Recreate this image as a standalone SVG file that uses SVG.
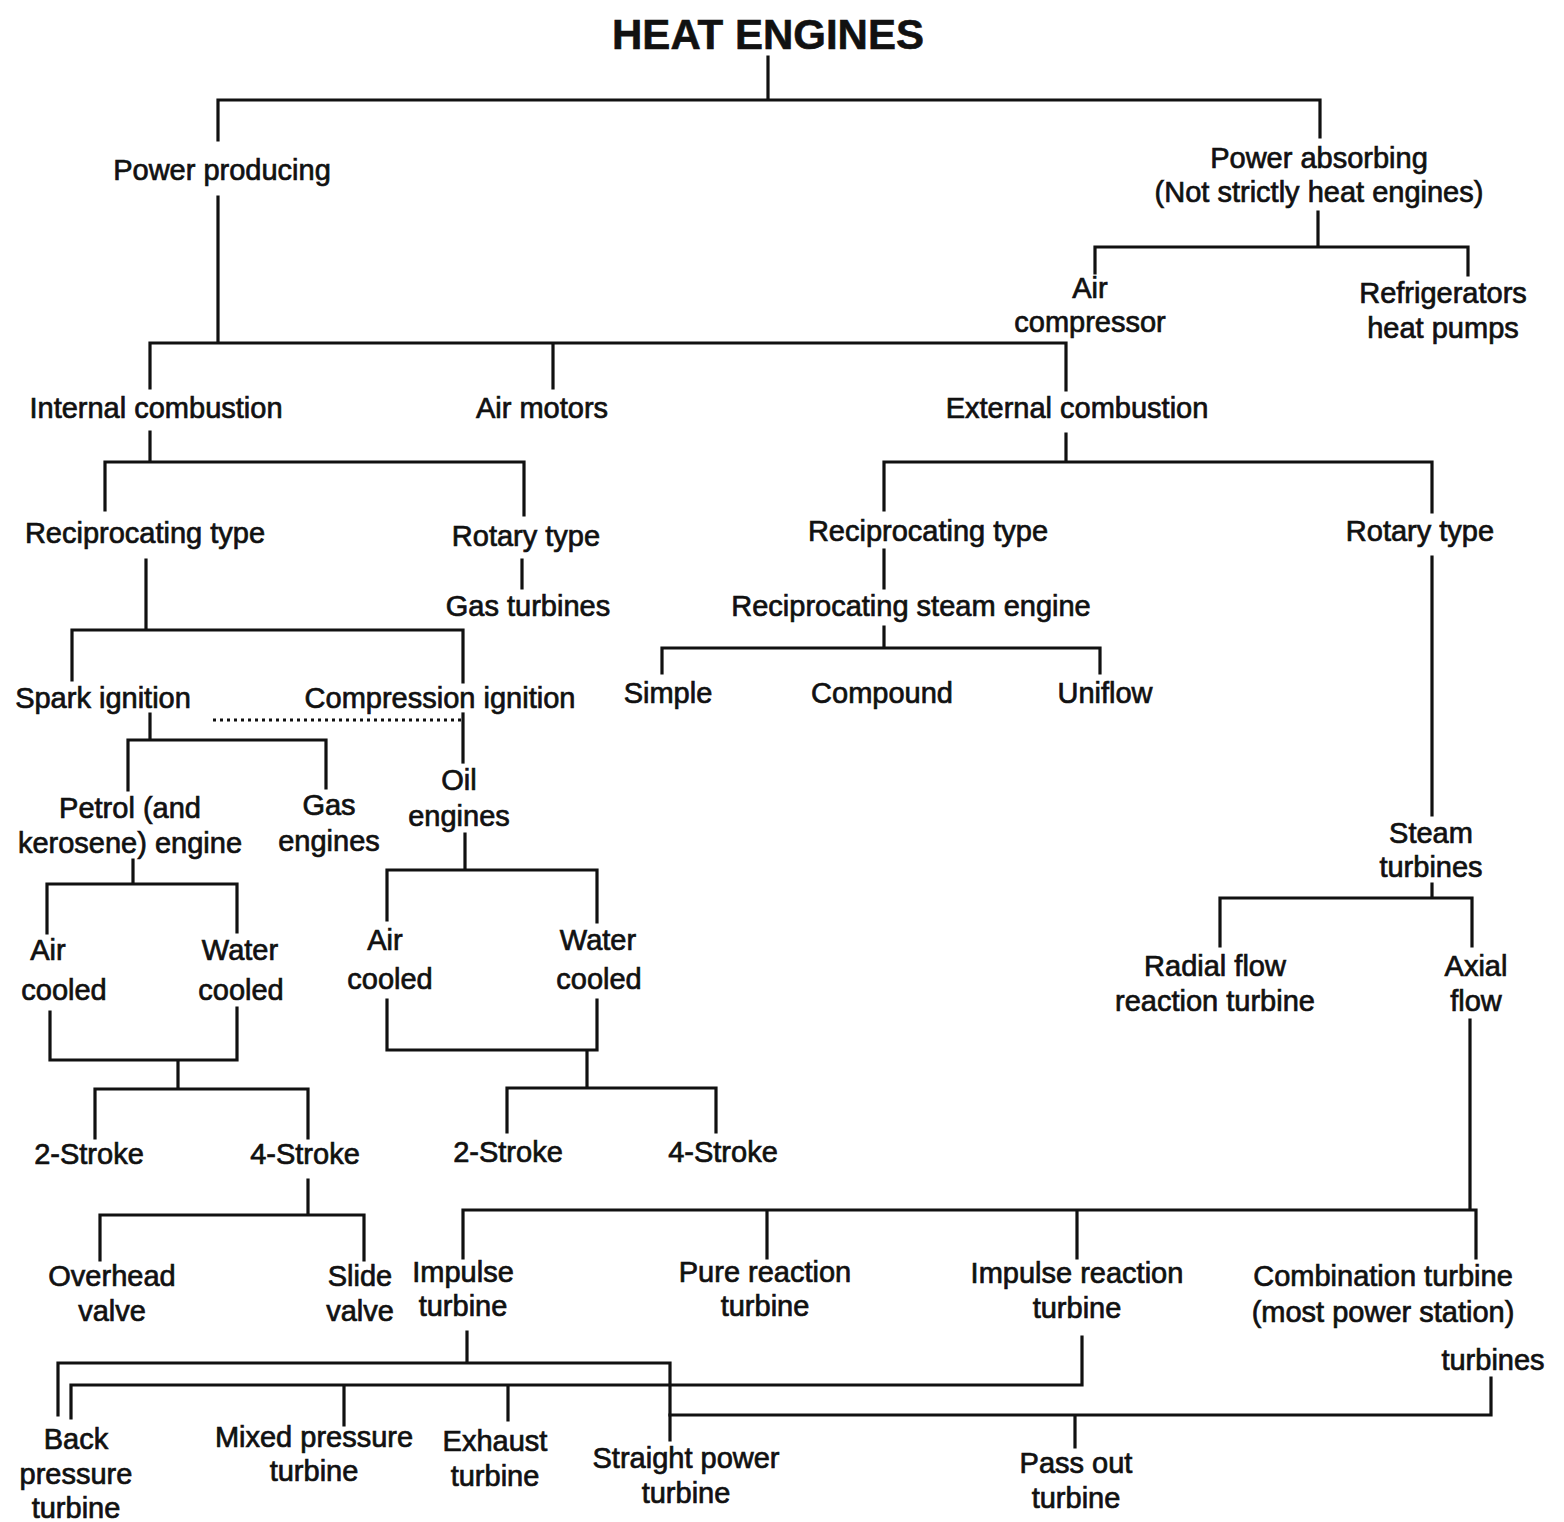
<svg xmlns="http://www.w3.org/2000/svg" width="1564" height="1522" viewBox="0 0 1564 1522">
<style>
text{font-family:"Liberation Sans",Arial,sans-serif;font-size:29px;fill:#111;stroke:#111;stroke-width:0.7;text-anchor:middle}
.title{font-size:42px;font-weight:bold;stroke-width:0.6}
.ln{fill:none;stroke:#111;stroke-width:3.2;stroke-linecap:square}
.dot{fill:none;stroke:#111;stroke-width:3;stroke-dasharray:3 4}
</style>
<rect width="1564" height="1522" fill="#fff"/>
<g id="connectors">
<path class="ln" d="M768 57V100M218 100H1320M218 100V140M1320 100V137"/>
<path class="ln" d="M218 197V343M150 343H1066M150 343V388M553 343V388M1066 343V390"/>
<path class="ln" d="M1318 212V247M1095 247H1468M1095 247V273M1468 247V275"/>
<path class="ln" d="M150 432V462M105 462H524M105 462V510M524 462V515M522 560V588"/>
<path class="ln" d="M146 560V630M72 630H463M72 630V680M463 630V682"/>
<path class="dot" d="M213 720H462"/>
<path class="ln" d="M463 714V762"/>
<path class="ln" d="M150 714V740M128 740H326M128 740V790M326 740V788"/>
<path class="ln" d="M133 860V884M47 884H237M47 884V933M237 884V932"/>
<path class="ln" d="M50 1012V1060H237V1008M178 1060V1089M95 1089H308M95 1089V1138M308 1089V1138"/>
<path class="ln" d="M308 1180V1215M100 1215H364M100 1215V1260M364 1215V1260"/>
<path class="ln" d="M465 834V870M387 870H597M387 870V920M597 870V922"/>
<path class="ln" d="M387 1000V1050H597V1000M587 1050V1088M507 1088H716M507 1088V1132M716 1088V1132"/>
<path class="ln" d="M1066 434V462M884 462H1432M884 462V510M1432 462V512"/>
<path class="ln" d="M884 550V588M884 627V648M662 648H1100M662 648V673M1100 648V673"/>
<path class="ln" d="M1432 557V815M1432 884V898M1220 898H1472M1220 898V946M1472 898V946"/>
<path class="ln" d="M1470 1020V1210M463 1210H1476M463 1210V1258M767 1210V1258M1077 1210V1258M1476 1210V1258"/>
<path class="ln" d="M467 1332V1363M58 1363H670M58 1363V1415M670 1363V1440"/>
<path class="ln" d="M1082 1337V1385H71V1418M344 1385V1425M508 1385V1420"/>
<path class="ln" d="M1491 1378V1415H670M1075 1415V1447"/>
</g>
<g id="heat-engines"><text class="title" x="768" y="49">HEAT ENGINES</text></g>
<g id="power-producing"><text x="222" y="180">Power producing</text></g>
<g id="power-absorbing"><text x="1319" y="168">Power absorbing</text><text x="1319" y="202">(Not strictly heat engines)</text></g>
<g id="air-compressor"><text x="1090" y="298">Air</text><text x="1090" y="332">compressor</text></g>
<g id="refrigerators"><text x="1443" y="303">Refrigerators</text><text x="1443" y="338">heat pumps</text></g>
<g id="internal-combustion"><text x="156" y="418">Internal combustion</text></g>
<g id="air-motors"><text x="542" y="418">Air motors</text></g>
<g id="external-combustion"><text x="1077" y="418">External combustion</text></g>
<g id="ic-reciprocating"><text x="145" y="543">Reciprocating type</text></g>
<g id="ic-rotary"><text x="526" y="546">Rotary type</text></g>
<g id="gas-turbines"><text x="528" y="616">Gas turbines</text></g>
<g id="ec-reciprocating"><text x="928" y="541">Reciprocating type</text></g>
<g id="ec-rotary"><text x="1420" y="541">Rotary type</text></g>
<g id="steam-engine"><text x="911" y="616">Reciprocating steam engine</text></g>
<g id="simple"><text x="668" y="703">Simple</text></g>
<g id="compound"><text x="882" y="703">Compound</text></g>
<g id="uniflow"><text x="1105" y="703">Uniflow</text></g>
<g id="spark-ignition"><text x="103" y="708">Spark ignition</text></g>
<g id="compression-ignition"><text x="440" y="708">Compression ignition</text></g>
<g id="petrol-engine"><text x="130" y="818">Petrol (and</text><text x="130" y="853">kerosene) engine</text></g>
<g id="gas-engines"><text x="329" y="815">Gas</text><text x="329" y="851">engines</text></g>
<g id="oil-engines"><text x="459" y="790">Oil</text><text x="459" y="826">engines</text></g>
<g id="si-air-cooled"><text x="48" y="960">Air</text><text x="64" y="1000">cooled</text></g>
<g id="si-water-cooled"><text x="240" y="960">Water</text><text x="241" y="1000">cooled</text></g>
<g id="ci-air-cooled"><text x="385" y="950">Air</text><text x="390" y="989">cooled</text></g>
<g id="ci-water-cooled"><text x="598" y="950">Water</text><text x="599" y="989">cooled</text></g>
<g id="si-2-stroke"><text x="89" y="1164">2-Stroke</text></g>
<g id="si-4-stroke"><text x="305" y="1164">4-Stroke</text></g>
<g id="ci-2-stroke"><text x="508" y="1162">2-Stroke</text></g>
<g id="ci-4-stroke"><text x="723" y="1162">4-Stroke</text></g>
<g id="overhead-valve"><text x="112" y="1286">Overhead</text><text x="112" y="1321">valve</text></g>
<g id="slide-valve"><text x="360" y="1286">Slide</text><text x="360" y="1321">valve</text></g>
<g id="steam-turbines"><text x="1431" y="843">Steam</text><text x="1431" y="877">turbines</text></g>
<g id="radial-flow"><text x="1215" y="976">Radial flow</text><text x="1215" y="1011">reaction turbine</text></g>
<g id="axial-flow"><text x="1476" y="976">Axial</text><text x="1476" y="1011">flow</text></g>
<g id="impulse-turbine"><text x="463" y="1282">Impulse</text><text x="463" y="1316">turbine</text></g>
<g id="pure-reaction"><text x="765" y="1282">Pure reaction</text><text x="765" y="1316">turbine</text></g>
<g id="impulse-reaction"><text x="1077" y="1283">Impulse reaction</text><text x="1077" y="1318">turbine</text></g>
<g id="combination-turbine"><text x="1383" y="1286">Combination turbine</text><text x="1383" y="1322">(most power station)</text><text x="1493" y="1370">turbines</text></g>
<g id="back-pressure"><text x="76" y="1449">Back</text><text x="76" y="1484">pressure</text><text x="76" y="1518">turbine</text></g>
<g id="mixed-pressure"><text x="314" y="1447">Mixed pressure</text><text x="314" y="1481">turbine</text></g>
<g id="exhaust-turbine"><text x="495" y="1451">Exhaust</text><text x="495" y="1486">turbine</text></g>
<g id="straight-power"><text x="686" y="1468">Straight power</text><text x="686" y="1503">turbine</text></g>
<g id="pass-out"><text x="1076" y="1473">Pass out</text><text x="1076" y="1508">turbine</text></g>
</svg>
